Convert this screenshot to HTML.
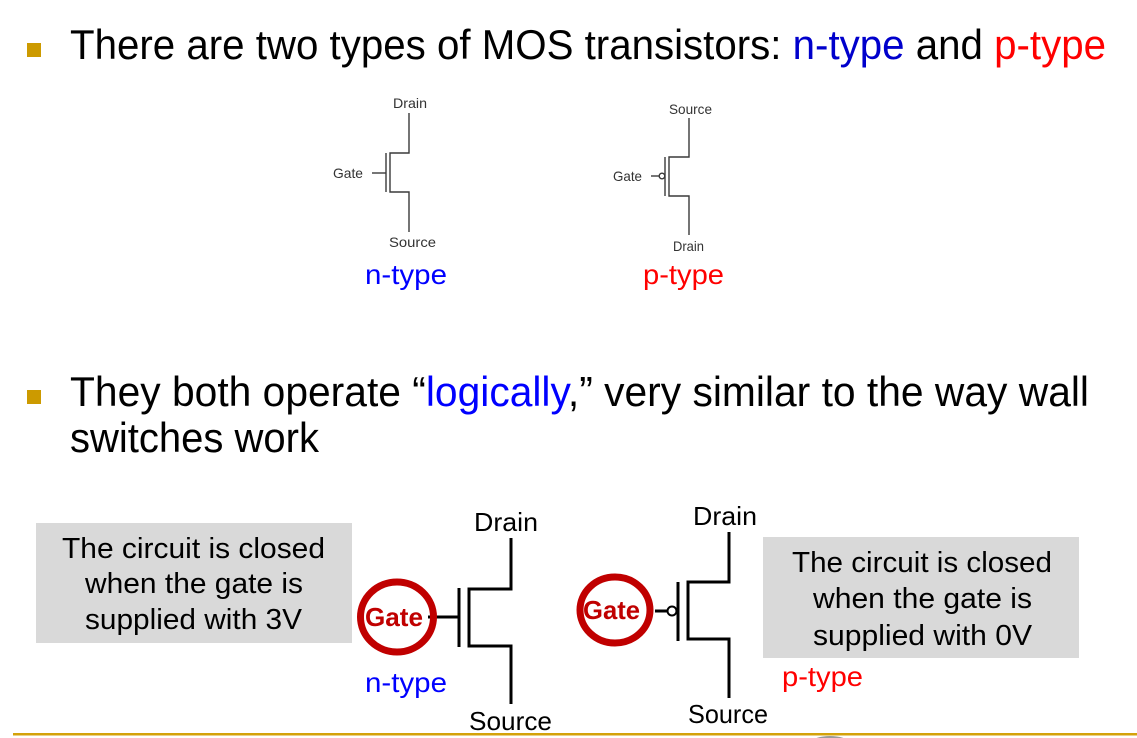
<!DOCTYPE html>
<html><head><meta charset="utf-8"><style>
html,body{margin:0;padding:0;background:#fff;}
svg{display:block;}
text{font-family:"Liberation Sans",Arial,sans-serif;}
</style></head><body>
<svg width="1137" height="738" viewBox="0 0 1137 738" xmlns="http://www.w3.org/2000/svg">
<rect width="1137" height="738" fill="#fff"/>
<!-- bullets -->
<rect x="27" y="43" width="14" height="14" fill="#cc9a00"/>
<rect x="27" y="390" width="14" height="14" fill="#cc9a00"/>
<!-- title -->
<text x="70" y="59" font-size="42" textLength="1036" lengthAdjust="spacingAndGlyphs" fill="#000">There are two types of MOS transistors: <tspan fill="#0000cc">n-type</tspan> and <tspan fill="#ff0000">p-type</tspan></text>
<text x="70" y="406" font-size="42" textLength="1019" lengthAdjust="spacingAndGlyphs" fill="#000">They both operate “<tspan fill="#0000ff">logically</tspan>,” very similar to the way wall</text>
<text x="70" y="452" font-size="42" textLength="249" lengthAdjust="spacingAndGlyphs" fill="#000">switches work</text>

<!-- small n-type -->
<g stroke="#3a3a3a" stroke-width="1.4" fill="none">
<polyline points="409,113 409,153 390,153 390,192 409,192 409,232"/>
<line x1="386" y1="153" x2="386" y2="192"/>
<line x1="372" y1="173" x2="386" y2="173"/>
</g>
<text x="393" y="108" font-size="14" textLength="34" lengthAdjust="spacingAndGlyphs" fill="#333">Drain</text>
<text x="333" y="178" font-size="14" textLength="30" lengthAdjust="spacingAndGlyphs" fill="#333">Gate</text>
<text x="389" y="247" font-size="14" textLength="47" lengthAdjust="spacingAndGlyphs" fill="#333">Source</text>
<text x="365" y="284" font-size="28" textLength="82" lengthAdjust="spacingAndGlyphs" fill="#0000ff">n-type</text>

<!-- small p-type -->
<g stroke="#3a3a3a" stroke-width="1.4" fill="none">
<polyline points="689,118 689,157 669,157 669,196 689,196 689,235"/>
<line x1="665" y1="157" x2="665" y2="196"/>
<line x1="651" y1="176" x2="659" y2="176"/>
<circle cx="662" cy="176" r="2.8"/>
</g>
<text x="669" y="114" font-size="14" textLength="43" lengthAdjust="spacingAndGlyphs" fill="#333">Source</text>
<text x="613" y="181" font-size="14" textLength="29" lengthAdjust="spacingAndGlyphs" fill="#333">Gate</text>
<text x="673" y="251" font-size="14" textLength="31" lengthAdjust="spacingAndGlyphs" fill="#333">Drain</text>
<text x="643" y="284" font-size="28" textLength="81" lengthAdjust="spacingAndGlyphs" fill="#ff0000">p-type</text>

<!-- left gray box -->
<rect x="36" y="523" width="316" height="120" fill="#d9d9d9"/>
<text x="62" y="558" font-size="29" textLength="263" lengthAdjust="spacingAndGlyphs" fill="#000">The circuit is closed</text>
<text x="85" y="593" font-size="29" textLength="218" lengthAdjust="spacingAndGlyphs" fill="#000">when the gate is</text>
<text x="85" y="629" font-size="29" textLength="217" lengthAdjust="spacingAndGlyphs" fill="#000">supplied with 3V</text>

<!-- right gray box -->
<rect x="763" y="537" width="316" height="121" fill="#d9d9d9"/>
<text x="792" y="572" font-size="29" textLength="260" lengthAdjust="spacingAndGlyphs" fill="#000">The circuit is closed</text>
<text x="813" y="608" font-size="29" textLength="219" lengthAdjust="spacingAndGlyphs" fill="#000">when the gate is</text>
<text x="813" y="645" font-size="29" textLength="219" lengthAdjust="spacingAndGlyphs" fill="#000">supplied with 0V</text>

<!-- big n-type -->
<g stroke="#000" stroke-width="3" fill="none">
<polyline points="511,538 511,589 469,589 469,646 511,646 511,704"/>
<line x1="459" y1="588" x2="459" y2="647"/>
<line x1="428" y1="617" x2="459" y2="617"/>
</g>
<ellipse cx="397" cy="617" rx="36.5" ry="35" fill="none" stroke="#c00000" stroke-width="7"/>
<text x="365" y="626" font-size="26" font-weight="bold" textLength="58" lengthAdjust="spacingAndGlyphs" fill="#c00000">Gate</text>
<text x="474" y="531" font-size="26" textLength="64" lengthAdjust="spacingAndGlyphs" fill="#000">Drain</text>
<text x="469" y="730" font-size="26" textLength="83" lengthAdjust="spacingAndGlyphs" fill="#000">Source</text>
<text x="365" y="692" font-size="28" textLength="82" lengthAdjust="spacingAndGlyphs" fill="#0000ff">n-type</text>

<!-- big p-type -->
<g stroke="#000" stroke-width="3" fill="none">
<polyline points="729,532 729,582 688,582 688,639 729,639 729,698"/>
<line x1="678" y1="582" x2="678" y2="641"/>
<line x1="655" y1="611" x2="667" y2="611"/>
</g>
<circle cx="672" cy="611" r="4.5" fill="#fff" stroke="#000" stroke-width="2"/>
<ellipse cx="615" cy="610" rx="35" ry="33" fill="none" stroke="#c00000" stroke-width="7"/>
<text x="583" y="619" font-size="26" font-weight="bold" textLength="57" lengthAdjust="spacingAndGlyphs" fill="#c00000">Gate</text>
<text x="693" y="525" font-size="26" textLength="64" lengthAdjust="spacingAndGlyphs" fill="#000">Drain</text>
<text x="688" y="723" font-size="26" textLength="80" lengthAdjust="spacingAndGlyphs" fill="#000">Source</text>
<text x="782" y="686" font-size="28" textLength="81" lengthAdjust="spacingAndGlyphs" fill="#ff0000">p-type</text>

<!-- bottom line -->
<rect x="13" y="733" width="1124" height="2.5" fill="#d4a20a"/>
<ellipse cx="830" cy="742" rx="18" ry="6" fill="#9a9a9a"/>
</svg>
</body></html>
